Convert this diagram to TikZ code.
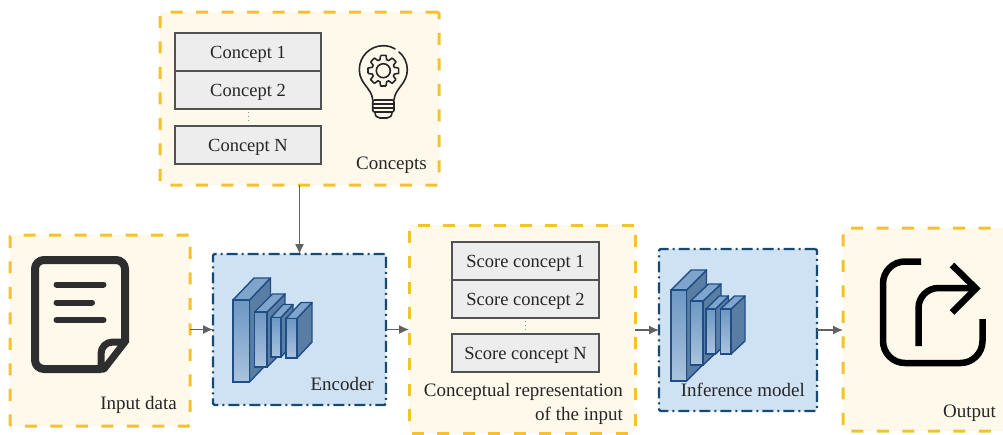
\documentclass[tikz,border=0pt]{standalone}
\usepackage{fontspec}
\setmainfont{Liberation Serif}
\usetikzlibrary{arrows.meta}
\definecolor{panelyellow}{HTML}{FFF9EC}
\definecolor{dashyellow}{HTML}{F4C12F}
\definecolor{panelblue}{HTML}{CFE2F3}
\definecolor{dashblue}{HTML}{174A73}
\definecolor{layeredge}{HTML}{1F4E86}
\definecolor{layerside}{HTML}{5A7DA3}
\definecolor{layertop}{HTML}{7FA5CD}
\definecolor{layerhigh}{HTML}{6C97C4}
\definecolor{layerlow}{HTML}{ABC3DE}
\tikzset{
  yellowbox/.style={draw=dashyellow,fill=panelyellow,line width=3pt,dash pattern=on 12pt off 13.5pt,rounded corners=1.5pt,anchor=north west,inner sep=0pt,outer sep=0pt},
  bluebox/.style={draw=dashblue,fill=panelblue,line width=2.2pt,dash pattern=on 11pt off 4pt on 2pt off 4pt,rounded corners=1.5pt,anchor=north west,inner sep=0pt,outer sep=0pt},
  scorebox/.style={draw=black!68,fill=black!7,line width=1.3pt,anchor=north west,inner sep=0pt,outer sep=0pt,text depth=0pt,font=\fontsize{18.5}{22}\selectfont,text=black!85},
  caption/.style={anchor=base east,inner sep=0pt,font=\fontsize{19}{22}\selectfont,text=black!85},
  flow/.style={draw=black!62,line width=1.2pt,-{Latex[length=10pt,width=9pt]}},
  gapdots/.style={draw=black!45,line width=0.9pt,dash pattern=on 0.9pt off 3pt}
}
\newcommand{\cnnlayer}[6]{
\draw [line width=1.4pt,color=layeredge,fill=layerside,line join=round] (#3,#2)-- ({#3+#5},{#2-#6})-- ({#3+#5},{#4-#6})-- (#3,#4)-- cycle;
\draw [line width=1.4pt,color=layeredge,fill=layertop,line join=round] (#1,#2)-- ({#1+#5},{#2-#6})-- ({#3+#5},{#2-#6})-- (#3,#2)-- cycle;
\draw [line width=1.4pt,color=layeredge,top color=layerhigh,bottom color=layerlow] (#1,#2) rectangle (#3,#4);
}
\begin{document}
\begin{tikzpicture}[x=1pt,y=-1pt]
\useasboundingbox (0,0) rectangle (1003,434);
\clip (0,0) rectangle (1003,434);
\node [yellowbox,minimum width=279pt,minimum height=173pt] (conceptspanel) at (160,12) {};
\node [yellowbox,minimum width=180pt,minimum height=191pt] (inputpanel) at (10,235) {};
\node [bluebox,minimum width=173pt,minimum height=151pt] (encoderpanel) at (213,254) {};
\node [yellowbox,minimum width=226pt,minimum height=208pt] (reprpanel) at (409,225) {};
\node [bluebox,minimum width=158pt,minimum height=162pt] (inferencepanel) at (659,249) {};
\node [yellowbox,minimum width=200pt,minimum height=203pt] (outputpanel) at (843,228) {};
\node [scorebox,minimum width=146pt,minimum height=38pt] (concepta) at (175,33) {Concept 1};
\node [scorebox,minimum width=146pt,minimum height=38pt] (conceptb) at (175,71) {Concept 2};
\node [scorebox,minimum width=146pt,minimum height=38pt] (conceptn) at (175,126) {Concept N};
\coordinate (conceptgap) at (248,112);
\draw [gapdots] (conceptgap)-- ++(0,10);
\node [scorebox,minimum width=147pt,minimum height=38pt] (scorea) at (452,242) {Score concept 1};
\node [scorebox,minimum width=147pt,minimum height=38pt] (scoreb) at (452,280) {Score concept 2};
\node [scorebox,minimum width=147pt,minimum height=38pt] (scoren) at (452,334) {Score concept N};
\coordinate (scoregap) at (525.5,321);
\draw [gapdots] (scoregap)-- ++(0,10);
\node [caption] (conceptslabel) at (427,169) {Concepts};
\node [caption] (inputlabel) at (177,409) {Input data};
\node [caption] (encoderlabel) at (374,390) {Encoder};
\node [caption] (reprlabela) at (623,396) {Conceptual representation};
\node [caption] (reprlabelb) at (623,420) {of the input};
\node [caption] (inferencelabel) at (805,396) {Inference model};
\node [caption] (outputlabel) at (996,417) {Output};
\draw [flow] (conceptspanel.south)-- (encoderpanel.north);
\draw [flow] (inputpanel.east |- encoderpanel.west)-- (encoderpanel.west);
\draw [flow] (encoderpanel.east)-- (reprpanel.west |- encoderpanel.east);
\draw [flow] (reprpanel.east |- inferencepanel.west)-- (inferencepanel.west);
\draw [flow] (inferencepanel.east)-- (outputpanel.west |- inferencepanel.east);
\cnnlayer{233}{300}{249.5}{382}{21}{22}
\cnnlayer{254.5}{312}{267}{367}{18}{18}
\cnnlayer{271}{317.5}{281}{357}{12}{13}
\cnnlayer{286}{318.5}{297}{358}{15}{16}
\cnnlayer{671}{290}{686.5}{381}{20}{20}
\cnnlayer{690.5}{301}{703}{365}{18}{17}
\cnnlayer{706}{309}{715.5}{354}{13}{13}
\cnnlayer{720.5}{309}{731}{354}{14}{13}
\draw [line width=8pt,color=black!82,line join=round,rounded corners=9pt] (101,369)-- (35,369)-- (35,260)-- (125,260)-- (125,343);
\draw [line width=7pt,color=black!82,line join=round] (104,369)-- (125,342)-- (113,342) .. controls (106,342) and (101,347) .. (101,354)-- (101,369)-- cycle;
\draw [line width=6pt,color=black!82,line cap=round] (56.5,284.5)-- (103.5,284.5);
\draw [line width=6pt,color=black!82,line cap=round] (56.5,302.5)-- (92,302.5);
\draw [line width=6pt,color=black!82,line cap=round] (56.5,320)-- (103.5,320);
\draw [line width=1.6pt,color=black!85,line cap=round] (372.7,100) .. controls (372,88) and (359.3,84) .. (359.3,69.7) .. controls (359.3,56.5) and (370,45.7) .. (383.3,45.7) .. controls (388,45.7) and (392,47) .. (395,49);
\draw [line width=1.6pt,color=black!85,line cap=round] (399,52) .. controls (404,56) and (407.3,62.5) .. (407.3,69.7) .. controls (407.3,84) and (395,88) .. (394,100);
\draw [line width=1.6pt,color=black!85,rounded corners=2pt] (372.7,100) rectangle (394,112);
\draw [line width=1.6pt,color=black!85] (372.7,104)-- (394,104);
\draw [line width=1.6pt,color=black!85] (372.7,108)-- (394,108);
\draw [line width=1.6pt,color=black!85] (375,112) .. controls (375,116) and (377,118) .. (380,118)-- (387,118) .. controls (390,118) and (392,116) .. (392,112);
\draw [line width=1.6pt,color=black!85] (383.3,70.7) circle (7);
\foreach \a in {0,45,...,315}
  \draw [shift={(383.3,70.7)},line width=1.6pt,color=black!85,line join=round] (\a-10:15.5)-- (\a+10:15.5)-- (\a+17:11.5)-- (\a+28:11.5)-- (\a+35:15.5);
\draw [line width=6.5pt,color=black,rounded corners=22pt] (921,261.5)-- (883,261.5)-- (883,363)-- (982.5,363)-- (982.5,319);
\draw [line width=6.5pt,color=black,rounded corners=20pt] (918.5,346)-- (918.5,288)-- (977,288);
\draw [line width=6.5pt,color=black,line join=miter] (952,265)-- (976,288.5)-- (952,312.5);
\end{tikzpicture}
\end{document}
